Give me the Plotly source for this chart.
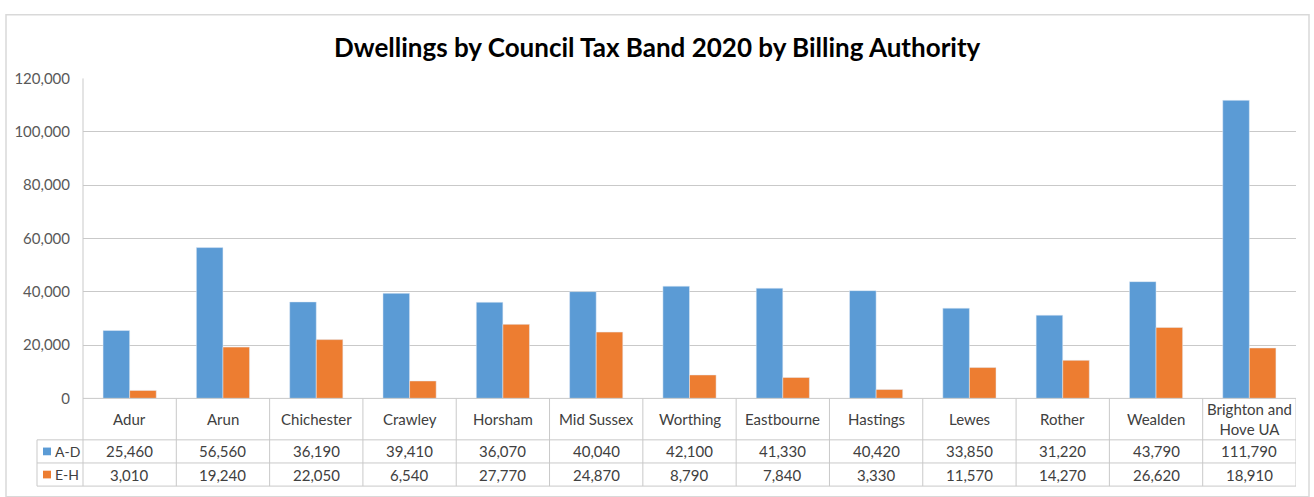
import plotly.graph_objects as go

categories = ["Adur", "Arun", "Chichester", "Crawley", "Horsham", "Mid Sussex", "Worthing",
              "Eastbourne", "Hastings", "Lewes", "Rother", "Wealden", "Brighton and Hove UA"]
band_ad = [25460, 56560, 36190, 39410, 36070, 40040, 42100, 41330, 40420, 33850, 31220, 43790, 111790]
band_eh = [3010, 19240, 22050, 6540, 27770, 24870, 8790, 7840, 3330, 11570, 14270, 26620, 18910]
series_names = ["A-D", "E-H"]
y_ticks = [0, 20000, 40000, 60000, 80000, 100000, 120000]
title_text = "Dwellings by Council Tax Band 2020 by Billing Authority"

W, H = 1314, 497
BLUE, ORANGE = "#5B9BD5", "#ED7D31"
GRID = "#C9C9C9"
FONT = "Lato"

def px(v):
    return v / W

def py(v):
    return 1 - v / H

plot_l, plot_r = 83, 1296
plot_t, plot_b = 71, 403
row1_b, row2_b, row3_b = 446, 470, 494
leg_l = 37

fig = go.Figure()
idx = list(range(len(categories)))
fig.add_trace(go.Bar(x=idx, y=band_ad, name=series_names[0], marker_color=BLUE))
fig.add_trace(go.Bar(x=idx, y=band_eh, name=series_names[1], marker_color=ORANGE))

shapes = []
line = dict(color=GRID, width=1)
# outer chart border
shapes.append(dict(type="rect", xref="paper", yref="paper", x0=px(6), x1=px(1309), y0=py(505), y1=py(5),
                   line=dict(color="#D9D9D9", width=1.5)))
# left axis line through table
shapes.append(dict(type="line", xref="paper", yref="paper", x0=px(plot_l), x1=px(plot_l),
                   y0=py(plot_t), y1=py(row3_b), line=line))
# table vertical lines
for i in range(1, len(categories) + 1):
    shapes.append(dict(type="line", xref="x", yref="paper", x0=i - 0.5, x1=i - 0.5,
                       y0=py(plot_b), y1=py(row3_b), line=line))
# legend column left line
shapes.append(dict(type="line", xref="paper", yref="paper", x0=px(leg_l), x1=px(leg_l),
                   y0=py(row1_b), y1=py(row3_b), line=line))
# horizontal table lines
shapes.append(dict(type="line", xref="paper", yref="paper", x0=px(plot_l), x1=px(plot_r),
                   y0=py(plot_b), y1=py(plot_b), line=line))
for yb in (row1_b, row2_b, row3_b):
    shapes.append(dict(type="line", xref="paper", yref="paper", x0=px(leg_l), x1=px(plot_r),
                       y0=py(yb), y1=py(yb), line=line))
# legend keys
for (yc, col) in ((458, BLUE), (482, ORANGE)):
    shapes.append(dict(type="rect", xref="paper", yref="paper", x0=px(43), x1=px(51),
                       y0=py(yc + 4), y1=py(yc - 4), fillcolor=col, line=dict(width=0)))

ann = []
tf = dict(family=FONT, size=15, color="#404040")
for i, c in enumerate(categories):
    label = c.replace("and Hove", "and<br>Hove")
    ann.append(dict(x=i, xref="x", y=py((plot_b + row1_b) / 2), yref="paper", text=label,
                    showarrow=False, font=tf, xanchor="center", yanchor="middle"))
    ann.append(dict(x=i, xref="x", y=py((row1_b + row2_b) / 2), yref="paper", text=f"{band_ad[i]:,}",
                    showarrow=False, font=tf, xanchor="center", yanchor="middle"))
    ann.append(dict(x=i, xref="x", y=py((row2_b + row3_b) / 2), yref="paper", text=f"{band_eh[i]:,}",
                    showarrow=False, font=tf, xanchor="center", yanchor="middle"))
for name, yc in zip(series_names, (458, 482)):
    ann.append(dict(x=px(53), xref="paper", y=py(yc), yref="paper", text=name, showarrow=False,
                    font=dict(family=FONT, size=14, color="#404040"), xanchor="left", yanchor="middle"))
ann.append(dict(x=0.5, xref="paper", y=py(38), yref="paper", text=f"<b>{title_text}</b>",
                showarrow=False, font=dict(family=FONT, size=26, color="#000000"),
                xanchor="center", yanchor="middle"))

fig.update_layout(
    width=W, height=H,
    margin=dict(l=0, r=0, t=0, b=0),
    paper_bgcolor="white", plot_bgcolor="white",
    barmode="group", bargap=0.43, bargroupgap=0,
    showlegend=False,
    shapes=shapes, annotations=ann,
    xaxis=dict(domain=[px(plot_l), px(plot_r)], range=[-0.5, len(categories) - 0.5],
               showticklabels=False, showgrid=False, zeroline=False, showline=False, fixedrange=True),
    yaxis=dict(domain=[py(plot_b), py(plot_t)], range=[0, 120000], tickvals=y_ticks,
               tickformat=",", showgrid=True, gridcolor=GRID, gridwidth=1, zeroline=False,
               showline=False, ticks="", ticklabelstandoff=12,
               tickfont=dict(family=FONT, size=15, color="#595959"), fixedrange=True),
)

fig.write_html("out.html")
